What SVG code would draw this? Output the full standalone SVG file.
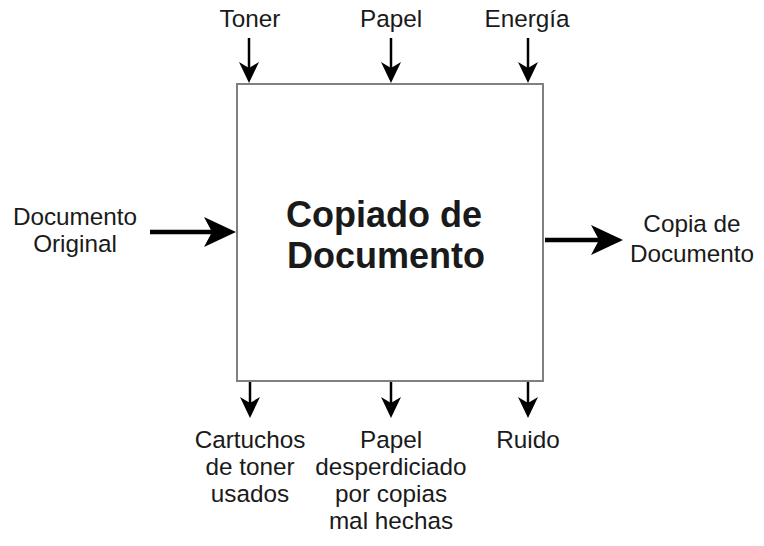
<svg xmlns="http://www.w3.org/2000/svg" width="764" height="546" viewBox="0 0 764 546">
<defs>
<style>
text{font-family:"Liberation Sans",Arial,sans-serif;fill:#1a1a1a;text-anchor:middle}
.lbl{font-size:24.3px}
.title{font-size:36px;font-weight:bold}
.ln{stroke:#000;fill:none}
</style>
</defs>
<rect width="764" height="546" fill="#fff"/>
<g id="process">
<rect x="237" y="84" width="306" height="297" fill="#fff" stroke="#808080" stroke-width="2"/>
<text class="title" x="384" y="227">Copiado de</text>
<text class="title" x="386" y="268">Documento</text>
</g>
<g id="connectors">
<line class="ln" x1="249" y1="38" x2="249" y2="75" stroke-width="2.5"/>
<path d="M239,62 L249,83 L259,62 L249,68 Z" fill="#000"/>
<line class="ln" x1="391" y1="38" x2="391" y2="75" stroke-width="2.5"/>
<path d="M381,62 L391,83 L401,62 L391,68 Z" fill="#000"/>
<line class="ln" x1="528" y1="38" x2="528" y2="75" stroke-width="2.5"/>
<path d="M518,62 L528,83 L538,62 L528,68 Z" fill="#000"/>
<line class="ln" x1="250" y1="382" x2="250" y2="410" stroke-width="2.5"/>
<path d="M240,397 L250,418 L260,397 L250,403 Z" fill="#000"/>
<line class="ln" x1="391" y1="382" x2="391" y2="410" stroke-width="2.5"/>
<path d="M381,397 L391,418 L401,397 L391,403 Z" fill="#000"/>
<line class="ln" x1="528" y1="382" x2="528" y2="410" stroke-width="2.5"/>
<path d="M518,397 L528,418 L538,397 L528,403 Z" fill="#000"/>
<line class="ln" x1="150" y1="232" x2="225" y2="232" stroke-width="4.5"/>
<path d="M204,217 L236,232 L204,247 L212,232 Z" fill="#000"/>
<line class="ln" x1="545" y1="240" x2="612" y2="240" stroke-width="4.5"/>
<path d="M591,225 L623,240 L591,255 L599,240 Z" fill="#000"/>
</g>
<g id="in-toner"><text class="lbl" x="250" y="27">Toner</text></g>
<g id="in-papel"><text class="lbl" x="391" y="27">Papel</text></g>
<g id="in-energia"><text class="lbl" x="527" y="27">Energía</text></g>
<g id="in-doc"><text class="lbl" x="75" y="225">Documento</text><text class="lbl" x="75" y="252">Original</text></g>
<g id="out-copia"><text class="lbl" x="692" y="232">Copia de</text><text class="lbl" x="692" y="262">Documento</text></g>
<g id="out-cartuchos"><text class="lbl" x="250" y="448">Cartuchos</text><text class="lbl" x="250" y="475">de toner</text><text class="lbl" x="250" y="502">usados</text></g>
<g id="out-papel"><text class="lbl" x="391" y="448">Papel</text><text class="lbl" x="391" y="475">desperdiciado</text><text class="lbl" x="391" y="502">por copias</text><text class="lbl" x="391" y="529">mal hechas</text></g>
<g id="out-ruido"><text class="lbl" x="528" y="448">Ruido</text></g>
</svg>
